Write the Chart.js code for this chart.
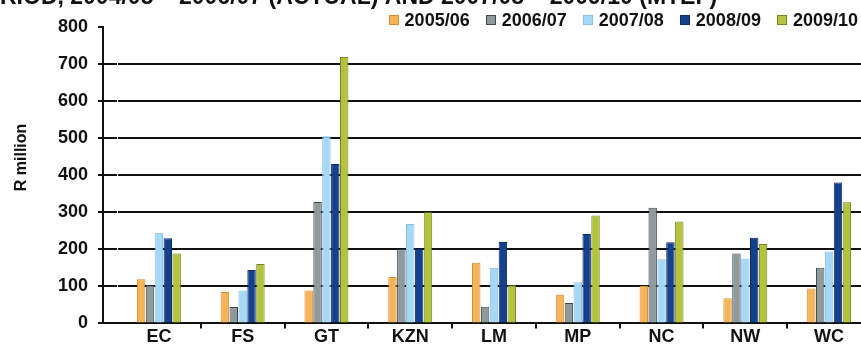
<!DOCTYPE html>
<html>
<head>
<meta charset="utf-8">
<script src="https://cdn.jsdelivr.net/npm/chart.js@4"></script>
<style>
  html, body { margin: 0; padding: 0; background: #fff; overflow: hidden; }
  body { position: relative; width: 861px; height: 344px; }
  #wrap { position: absolute; left: 0; top: -16px; width: 871px; height: 362px; }
  #legend {
    position: absolute; right: 3px; top: 11px;
    display: flex; gap: 16px;
    font: bold 18px 'Liberation Sans', Arial, sans-serif; line-height: 18px; color: #111;
  }
  #legend .item { display: flex; align-items: center; white-space: nowrap; }
  #legend .swatch { width: 8px; height: 8px; border: 1px solid; margin-right: 6px; }
</style>
</head>
<body>
<div id="wrap"><canvas id="c"></canvas></div>
<div id="legend"></div>
<script>
// Provinces along the category axis
const categories = ['EC', 'FS', 'GT', 'KZN', 'LM', 'MP', 'NC', 'NW', 'WC'];

// Financial years shown as series
const seriesLabels = ['2005/06', '2006/07', '2007/08', '2008/09', '2009/10'];

// Spending per province, R million
const fy0506 = [119, 85, 89, 125, 164, 77, 101, 68, 94];
const fy0607 = [103, 44, 328, 200, 45, 55, 312, 189, 150];
const fy0708 = [245, 89, 505, 268, 150, 111, 173, 175, 194];
const fy0809 = [230, 144, 430, 202, 220, 241, 219, 231, 380];
const fy0910 = [189, 160, 719, 300, 103, 291, 275, 214, 327];

// Value axis ticks
const yTicks = [0, 100, 200, 300, 400, 500, 600, 700, 800];

const titleText = 'RIOD, 2004/05 \u2013 2006/07 (ACTUAL) AND 2007/08 \u2013 2009/10 (MTEF)';
const axisCaptionText = 'R million';

const seriesValues = [fy0506, fy0607, fy0708, fy0809, fy0910];
const fills = ['#F5B35A', '#8E9A9C', '#A6D8F6', '#163F8C', '#B3C43C'];
const edges = ['#D98F2C', '#3F4A4C', '#86C2E8', '#0C2A66', '#75842A'];

const INK = '#111';
const NONE = 'rgba(0,0,0,0)';
const yMax = yTicks[yTicks.length - 1];

Chart.defaults.font.family = "'Liberation Sans', Arial, sans-serif";
Chart.defaults.font.weight = 'bold';
Chart.defaults.color = INK;

// Rotated caption beside the value axis
const axisCaption = {
  id: 'axisCaption',
  afterDraw(chart) {
    const { ctx } = chart;
    const y = chart.scales.y;
    const cy = y.top + (y.bottom - y.top) * 0.44;
    ctx.save();
    ctx.translate(22, cy);
    ctx.rotate(-Math.PI / 2);
    ctx.font = "bold 16px 'Liberation Sans', Arial, sans-serif";
    ctx.fillStyle = INK;
    ctx.textAlign = 'center';
    ctx.textBaseline = 'middle';
    ctx.fillText(axisCaptionText, 0, 0);
    ctx.restore();
  }
};

// Legend rendered as HTML from the chart's datasets
const htmlLegend = {
  id: 'htmlLegend',
  afterUpdate(chart) {
    const box = document.getElementById('legend');
    box.innerHTML = '';
    chart.data.datasets.forEach(ds => {
      const item = document.createElement('div');
      item.className = 'item';
      const sw = document.createElement('span');
      sw.className = 'swatch';
      sw.style.background = ds.backgroundColor;
      sw.style.borderColor = ds.borderColor;
      const tx = document.createElement('span');
      tx.textContent = ds.label;
      item.appendChild(sw);
      item.appendChild(tx);
      box.appendChild(item);
    });
  }
};

const hideTop = ctx => (ctx.tick && ctx.tick.value === yMax ? NONE : INK);

new Chart(document.getElementById('c'), {
  type: 'bar',
  data: {
    labels: categories,
    datasets: seriesLabels.map((label, i) => ({
      label,
      data: seriesValues[i],
      backgroundColor: fills[i],
      borderColor: edges[i],
      borderWidth: 1,
      categoryPercentage: 0.53,
      barPercentage: 0.95
    }))
  },
  options: {
    responsive: true,
    maintainAspectRatio: false,
    animation: false,
    layout: { padding: 0 },
    plugins: {
      legend: { display: false },
      tooltip: { enabled: false },
      title: {
        display: true,
        text: titleText,
        align: 'start',
        color: INK,
        font: { size: 23, weight: 'bold' },
        padding: { top: 0, bottom: 15.4 }
      }
    },
    scales: {
      x: {
        type: 'category',
        offset: true,
        grid: {
          offset: true,
          drawOnChartArea: false,
          color: INK,
          lineWidth: 2,
          tickLength: 5,
          tickColor: ctx => (ctx.index === 0 ? NONE : INK)
        },
        border: { display: true, color: INK, width: 2 },
        ticks: {
          color: INK,
          padding: -2,
          font: { size: 18, weight: 'bold' },
          maxRotation: 0,
          autoSkip: false
        }
      },
      y: {
        position: 'left',
        weight: 2,
        min: yTicks[0],
        max: yMax,
        afterBuildTicks: s => { s.ticks = yTicks.map(v => ({ value: v })); },
        ticks: { padding: 10, color: INK, font: { size: 18, weight: 'bold' } },
        grid: { color: hideTop, tickColor: INK, lineWidth: 2, tickLength: 5 },
        border: { display: true, color: INK, width: 2 },
        afterFit: s => { s.width = 103; }
      },
      yInner: {
        position: 'left',
        weight: 1,
        min: yTicks[0],
        max: yMax,
        afterBuildTicks: s => { s.ticks = yTicks.map(v => ({ value: v })); },
        ticks: { display: false },
        grid: { drawOnChartArea: false, color: hideTop, tickColor: hideTop, lineWidth: 2, tickLength: 14 },
        border: { display: false },
        afterFit: s => { s.width = 14; }
      }
    }
  },
  plugins: [axisCaption, htmlLegend]
});
</script>
</body>
</html>
